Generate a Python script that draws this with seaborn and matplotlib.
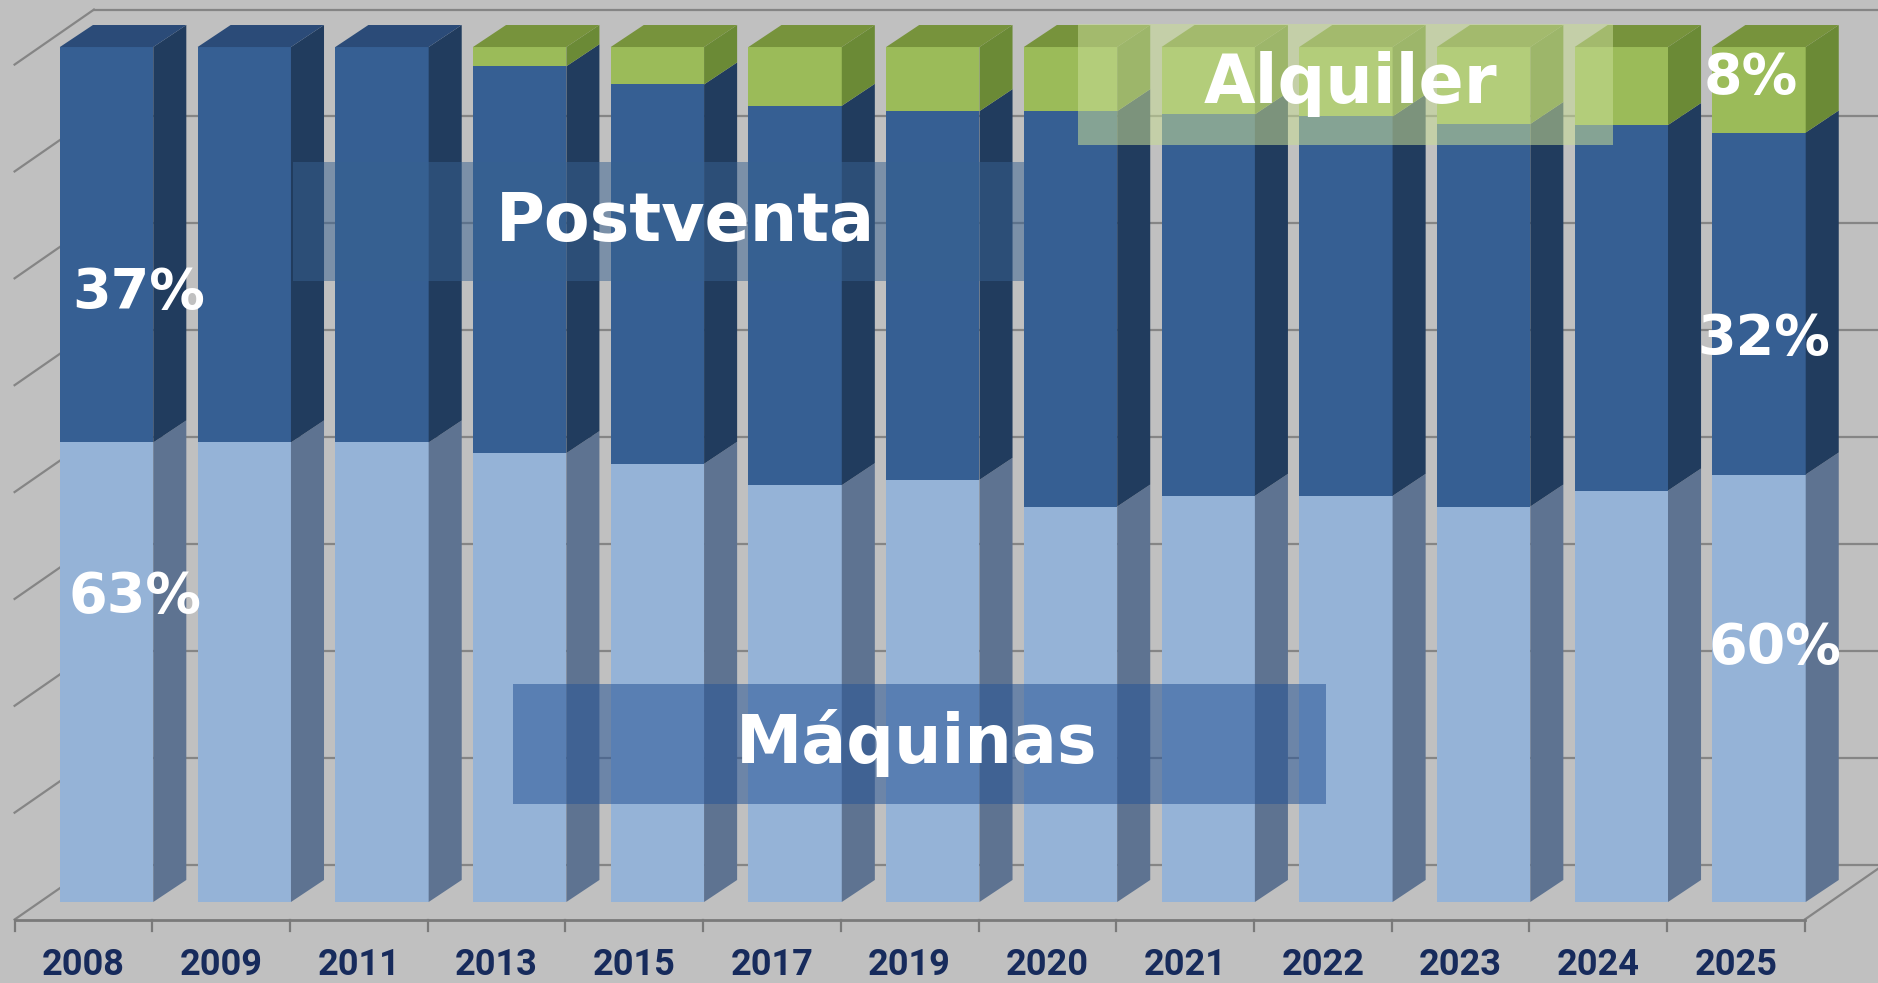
import matplotlib
matplotlib.use("Agg")
import matplotlib.pyplot as plt
from matplotlib.patches import Polygon, Rectangle
import seaborn as sns
import numpy as np

# data (share of sales, %)
years = ['2008', '2009', '2011', '2013', '2015', '2017', '2019',
         '2020', '2021', '2022', '2023', '2024', '2025']
maquinas = [63, 63, 63, 62, 61, 59, 59.5, 57, 58, 58, 57, 58.5, 60]
postventa = [37, 37, 37, 36.2, 35.5, 35.5, 34.5, 37, 35.7, 35.5, 35.8, 34.2, 32]
alquiler = [0, 0, 0, 1.8, 3.5, 5.5, 6, 6, 6.3, 6.5, 7.2, 7.3, 8]

AXIS_MIN = 20   # value axis starts at 20 %
AXIS_MAX = 100
GRID_STEP = 10

# colours
BG = '#c0c0c0'
LIGHT, LIGHT_SIDE = '#95b3d7', '#5e7391'
DARK, DARK_SIDE, DARK_TOP = '#365f93', '#213c5e', '#2b4b78'
GREEN, GREEN_SIDE, GREEN_TOP = '#9bbb59', '#6b8a36', '#77933c'
GRID = '#858585'
NAVY = '#172b5c'

# fake 3d depth (data units)
BAR_W = 0.678
DX, DY = 0.24, 2.06

m = np.array(maquinas)
mp = m + np.array(postventa)
total = mp + np.array(alquiler)

fig = plt.figure(figsize=(18.78, 9.83), dpi=100, facecolor=BG)
ax = fig.add_axes([0, 0, 1, 1])
ax.set_facecolor(BG)

# front faces, stacked by overdrawing
sns.barplot(x=years, y=total - AXIS_MIN, order=years, color=GREEN, saturation=1,
            width=BAR_W, errorbar=None, linewidth=0, ax=ax, zorder=2)
sns.barplot(x=years, y=mp - AXIS_MIN, order=years, color=DARK, saturation=1,
            width=BAR_W, errorbar=None, linewidth=0, ax=ax, zorder=2)
sns.barplot(x=years, y=m - AXIS_MIN, order=years, color=LIGHT, saturation=1,
            width=BAR_W, errorbar=None, linewidth=0, ax=ax, zorder=2)

top_u = AXIS_MAX - AXIS_MIN
n = len(years)
xl = -0.5 - 0.7 * DX          # left edge of floor, front
xr = n - 0.5 - 0.7 * DX       # right edge of floor, front
yf = -0.7 * DY - 0.2          # floor front offset
yb = 1.7 * DY                 # back wall offset

# back wall gridlines + left wall lines
for u in np.arange(0, top_u + 1, GRID_STEP):
    ax.plot([xl + 2.4 * DX, n + 2], [u + yb, u + yb], color=GRID, lw=1.6, zorder=0.5)
    ax.plot([xl, xl + 2.4 * DX], [u + yf, u + yb], color=GRID, lw=1.6, zorder=0.5)

# floor
ax.plot([xl, xr], [yf, yf], color='#7a7a7a', lw=2, zorder=0.6)
ax.plot([xr, xr + 2.4 * DX], [yf, yb], color=GRID, lw=1.6, zorder=0.6)
for k in range(n + 1):
    tx = k - 0.5 - 0.7 * DX
    ax.plot([tx, tx], [yf, yf - 1.1], color='#7a7a7a', lw=1.6, zorder=0.6)

# side and top faces
bars = ax.containers[0]
for i, bar in enumerate(bars):
    x0 = bar.get_x()
    x1 = x0 + bar.get_width()
    segs = [(0, m[i] - AXIS_MIN, LIGHT_SIDE),
            (m[i] - AXIS_MIN, mp[i] - AXIS_MIN, DARK_SIDE),
            (mp[i] - AXIS_MIN, total[i] - AXIS_MIN, GREEN_SIDE)]
    for y0, y1, c in segs:
        if y1 - y0 <= 0:
            continue
        ax.add_patch(Polygon([(x1, y0), (x1 + DX, y0 + DY), (x1 + DX, y1 + DY), (x1, y1)],
                             closed=True, facecolor=c, edgecolor='none', zorder=2))
    t = total[i] - AXIS_MIN
    top_c = GREEN_TOP if alquiler[i] > 0 else DARK_TOP
    ax.add_patch(Polygon([(x0, t), (x0 + DX, t + DY), (x1 + DX, t + DY), (x1, t)],
                         closed=True, facecolor=top_c, edgecolor='none', zorder=2))

# year labels under floor
for i, y in enumerate(years):
    ax.text(i - 0.7 * DX, -5.9, y, ha='center', va='center', fontsize=26,
            fontweight='bold', family=['Roboto', 'DejaVu Sans'], color=NAVY, zorder=5)

# category boxes
boxes = [((0.156, 0.714), 0.389, 0.121, '#376191', 0.5),
         ((0.273, 0.182), 0.433, 0.122, '#285596', 0.55),
         ((0.574, 0.852), 0.285, 0.124, '#c8dc96', 0.55)]
for (bx, by), bw, bh, c, a in boxes:
    fig.patches.append(Rectangle((bx, by), bw, bh, transform=fig.transFigure,
                                 facecolor=c, alpha=a, edgecolor='none', zorder=3))

big = dict(ha='center', va='center', fontsize=48, fontweight='bold', color='white', zorder=6)
fig.text(0.365, 0.774, 'Postventa', **big)
fig.text(0.488, 0.244, 'Máquinas', **big)
fig.text(0.719, 0.915, 'Alquiler', **big)

pct = dict(ha='center', va='center', fontsize=40, fontweight='bold', color='white', zorder=6)
fig.text(0.074, 0.702, '37%', **pct)
fig.text(0.072, 0.393, '63%', **pct)
fig.text(0.932, 0.921, '8%', **pct)
fig.text(0.939, 0.655, '32%', **pct)
fig.text(0.945, 0.341, '60%', **pct)

ax.set_xlim(-0.774, 12.864)
ax.set_ylim(-7.58, 84.4)
ax.axis('off')

fig.savefig('out.png', dpi=100, facecolor=BG)
